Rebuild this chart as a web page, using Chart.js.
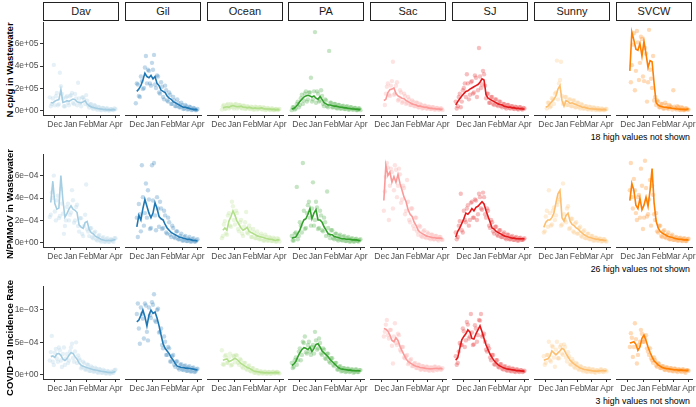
<!DOCTYPE html>
<html><head><meta charset="utf-8">
<script src="https://cdn.jsdelivr.net/npm/chart.js@4.4.1/dist/chart.umd.min.js"></script>
<style>
html,body{margin:0;padding:0;background:#fff}
body{width:696px;height:407px;overflow:hidden;position:relative;font-family:"Liberation Sans",Arial,Helvetica,sans-serif}
.strip{position:absolute;top:2px;height:19px;box-sizing:border-box;border:1px solid #222;background:#fff;font-size:11px;color:#1a1a1a;text-align:center;line-height:17px}
.ytitle{position:absolute;width:200px;height:12px;line-height:12px;font-weight:bold;font-size:9.5px;color:#000;text-align:center;transform:rotate(-90deg);white-space:nowrap}
.cap{position:absolute;right:6px;height:11px;line-height:11px;font-size:8.8px;color:#000;white-space:nowrap}
canvas{position:absolute}
</style></head><body>
<script>
const N = null;
const sites = ['Dav','Gil','Ocean','PA','Sac','SJ','Sunny','SVCW'];
const siteColors = ['#A6CEE3','#1F78B4','#B2DF8A','#33A02C','#FB9A99','#E31A1C','#FDBF6F','#FF7F00'];
// days since 2020-11-01
const xTickDays = [30,61,92,120,151];
const xTickLabels = ['Dec','Jan','Feb','Mar','Apr'];
const lineDays = [14,18,22,26,30,34,38,42,46,50,54,58,62,66,70,74,78,82,86,90,94,98,102,106,110,114,118,122,126,130,134,138,142,146,150];
const pointDays = [16,20,24,28,32,36,40,44,48,52,56,60,64,68,72,76,80,84,88,92,96,100,104,108,112,116,120,124,128,132,136,140,144,148];

const rowTitles = ['N cp/g in Wastewater','N/PMMoV in Wastewater','COVID\u221219 Incidence Rate'];
const rowCaptions = ['18 high values not shown','26 high values not shown','3 high values not shown'];

// y tick values (row units: 1e5, 1e-4, 1e-4) and labels
const yTicksCp = [0,2,4,6];
const yLabelsCp = ['0e+00','2e+05','4e+05','6e+05'];
const yTicksPm = [0,2,4,6];
const yLabelsPm = ['0e+00','2e\u221204','4e\u221204','6e\u221204'];
const yTicksInc = [0,5,10];
const yLabelsInc = ['0e+00','5e\u221204','1e\u221203'];
const yRangeCp = [-0.375, 7.875];
const yRangePm = [-0.375, 7.875];
const yRangeInc = [-0.65, 13.6];

// Row 1: N cp/g (x 1e5)
const cpLine = [
 [N,N,0.75,0.7,0.85,0.95,1.0,1.9,0.75,0.8,0.9,0.85,0.95,1.05,1.0,0.8,0.75,0.7,0.8,0.9,0.6,0.45,0.35,0.3,0.25,0.2,0.18,0.15,0.12,0.1,0.1,0.08,0.08,0.1,0.1],
 [N,N,N,N,1.7,1.9,2.2,2.7,3.3,3.0,2.9,3.1,2.8,3.0,2.4,2.2,1.8,1.7,1.6,1.3,1.1,1.0,0.8,0.7,0.6,0.5,0.4,0.3,0.3,0.25,0.2,0.15,0.12,0.1,0.08],
 [N,N,N,N,N,N,0.25,0.3,0.35,0.3,0.4,0.45,0.4,0.35,0.35,0.4,0.3,0.3,0.25,0.3,0.25,0.2,0.25,0.2,0.2,0.25,0.2,0.15,0.15,0.15,0.12,0.12,0.1,0.1,0.1],
 [0.15,0.2,0.35,0.55,0.8,1.0,1.2,1.3,1.35,1.3,1.2,1.3,1.1,1.0,1.25,1.0,0.7,0.6,0.5,0.5,0.45,0.4,0.4,0.35,0.3,0.3,0.25,0.25,0.2,0.2,0.15,0.15,0.12,0.12,0.1],
 [N,N,N,N,N,0.9,1.0,1.6,1.85,1.9,2.0,1.5,1.3,1.2,1.1,1.05,0.9,0.8,0.7,0.6,0.55,0.5,0.4,0.4,0.35,0.3,0.3,0.25,0.2,0.2,0.18,0.15,0.15,0.12,0.12],
 [0.5,0.8,1.05,1.3,1.5,1.7,1.75,1.9,2.0,2.1,2.2,2.3,2.5,2.8,2.7,1.4,1.1,1.0,0.9,0.8,0.7,0.6,0.55,0.5,0.4,0.35,0.3,0.3,0.25,0.25,0.2,0.2,0.18,0.15,0.15],
 [N,N,N,N,0.3,0.4,0.6,0.8,1.0,1.3,1.9,2.2,0.9,0.4,0.9,0.8,0.65,0.7,0.6,0.55,0.45,0.4,0.3,0.3,0.25,0.2,0.18,0.15,0.15,0.12,0.12,0.1,0.1,0.1,0.1],
 [N,N,N,N,N,3.5,6.9,6.2,5.4,5.3,5.9,4.8,6.1,5.0,3.8,4.4,4.3,2.4,0.7,0.5,0.4,0.35,0.3,0.3,0.25,0.25,0.2,0.2,0.15,0.15,0.12,0.12,0.1,0.12,0.15]
];
const cpPts = [
 [N,1.2,0.6,4.1,1.3,0.5,3.4,1.5,0.4,1.2,0.7,1.3,1.6,0.6,1.1,2.5,0.7,1.2,1.0,1.4,0.5,0.6,0.3,0.5,0.2,0.35,0.1,0.25,0.1,0.2,0.05,0.15,0.1,0.2],
 [N,N,N,0.65,2.3,1.2,2.6,2.0,4.8,3.6,2.4,4.2,4.9,2.0,3.0,1.5,2.1,1.0,1.8,0.8,1.4,0.6,0.9,0.4,0.7,0.3,0.5,0.2,0.4,0.15,0.3,0.1,0.2,0.05],
 [N,N,N,N,N,0.1,0.5,0.2,0.6,0.3,0.5,0.2,0.6,0.3,0.5,0.2,0.45,0.2,0.35,0.15,0.3,0.1,0.3,0.15,0.3,0.1,0.25,0.1,0.2,0.05,0.2,0.05,0.15,0.1],
 [0.3,0.1,0.6,0.3,1.1,0.6,1.5,0.8,1.6,2.9,1.0,6.9,1.7,0.8,1.8,0.6,1.0,0.4,5.25,0.7,0.3,0.6,0.2,0.5,0.2,0.45,0.15,0.4,0.1,0.3,0.1,0.25,0.05,0.2],
 [N,N,N,N,N,0.5,2.1,1.4,2.2,4.3,1.5,2.5,1.0,1.6,0.8,1.3,0.7,1.0,0.5,0.8,0.4,0.7,0.3,0.5,0.25,0.45,0.2,0.35,0.15,0.3,0.1,0.25,0.1,0.2],
 [0.2,1.2,0.3,1.8,2.4,3.2,1.0,2.5,1.5,3.1,1.2,5.5,2.0,3.5,2.2,1.5,0.7,1.2,0.6,1.0,0.5,0.8,0.4,0.6,0.3,0.5,0.25,0.4,0.2,0.35,0.15,0.3,0.15,0.25],
 [N,N,N,N,0.2,0.7,0.4,1.0,1.5,4.4,2.4,4.3,0.6,1.2,0.5,1.0,0.4,0.9,0.3,0.7,0.3,0.6,0.2,0.4,0.15,0.35,0.1,0.3,0.1,0.25,0.05,0.2,0.05,0.15],
 [N,N,N,N,N,2.5,5.8,1.8,7.0,2.7,6.5,3.0,5.5,0.8,7.1,2.8,4.8,1.2,0.9,0.3,0.6,0.2,0.7,0.25,0.5,0.3,1.8,0.2,0.4,0.1,0.3,0.05,0.2,0.1]
];
const cpPts2 = [
 [N,N,0.4,1.1,0.5,1.6,0.6,2.2,1.1,0.4,1.3,0.5,1.4,0.7,1.5,0.5,1.1,0.4,1.2,0.6,0.9,0.3,0.6,0.15,0.45,0.1,0.3,0.05,0.25,0.05,0.2,0.02,0.15,0.05,0.15],
 [N,N,N,N,2.4,1.3,3.0,1.9,3.8,2.4,3.5,2.2,3.6,2.3,3.1,1.6,2.5,1.2,2.2,0.9,1.6,0.6,1.2,0.4,1.0,0.3,0.7,0.15,0.5,0.1,0.35,0.05,0.25,0.05,0.15],
 [N,N,N,N,N,N,0.4,0.15,0.5,0.2,0.6,0.3,0.55,0.2,0.5,0.25,0.45,0.15,0.4,0.2,0.35,0.1,0.35,0.1,0.3,0.15,0.3,0.05,0.25,0.1,0.2,0.05,0.15,0.05,0.15],
 [0.05,0.3,0.2,0.8,0.5,1.4,0.9,1.7,1.0,1.6,0.8,1.7,0.7,1.5,0.9,1.3,0.4,0.9,0.3,0.7,0.3,0.6,0.25,0.5,0.2,0.4,0.15,0.35,0.1,0.3,0.1,0.25,0.05,0.2,0.05],
 [N,N,N,N,N,N,1.5,2.4,1.3,2.6,1.4,2.2,0.9,1.8,0.7,1.5,0.6,1.2,0.5,0.9,0.4,0.7,0.3,0.6,0.2,0.45,0.2,0.35,0.15,0.3,0.1,0.25,0.1,0.2,0.05],
 [0.8,0.4,1.5,0.8,2.0,1.2,2.4,1.4,2.6,1.6,2.9,1.8,3.0,2.3,3.2,1.1,1.5,0.7,1.2,0.5,1.0,0.4,0.8,0.3,0.6,0.2,0.5,0.2,0.4,0.15,0.3,0.1,0.3,0.1,0.2],
 [N,N,N,N,N,0.7,0.3,1.1,0.6,1.6,1.0,2.7,1.3,0.7,1.2,0.5,1.0,0.4,0.9,0.3,0.7,0.2,0.5,0.2,0.4,0.1,0.3,0.1,0.25,0.05,0.2,0.05,0.15,0.05,0.15],
 [N,N,N,N,N,N,4.0,6.8,3.5,6.0,4.2,6.3,2.6,5.0,2.5,3.6,2.0,0.9,0.5,0.8,0.3,0.6,0.2,0.5,0.15,0.4,0.1,0.35,0.1,0.3,0.05,0.25,0.05,0.2,0.1]
];

// Row 2: N/PMMoV (x 1e-4)
const pmLine = [
 [N,N,3.6,5.5,3.5,3.0,3.1,6.0,3.8,2.3,2.6,3.0,3.3,3.0,2.9,2.7,1.6,1.4,1.3,1.8,1.9,1.2,0.9,0.8,0.6,0.5,0.4,0.3,0.25,0.2,0.2,0.2,0.2,0.25,0.3],
 [N,N,N,N,1.4,2.4,2.0,3.0,3.8,3.2,2.6,2.2,2.6,3.5,3.0,2.3,2.1,2.0,1.6,1.3,1.1,0.9,0.8,0.7,0.6,0.5,0.45,0.4,0.35,0.3,0.3,0.25,0.2,0.2,0.15],
 [N,N,N,N,N,N,1.1,1.3,1.1,1.9,2.3,2.8,2.4,1.9,1.6,1.3,1.1,1.2,1.35,1.0,0.9,0.8,0.7,0.6,0.55,0.5,0.45,0.4,0.35,0.3,0.3,0.25,0.2,0.25,0.25],
 [0.4,0.45,0.5,0.8,1.1,1.6,2.0,2.1,2.5,3.0,2.1,2.6,2.9,2.0,2.0,1.8,1.4,1.1,0.8,0.7,0.7,0.55,0.5,0.45,0.4,0.35,0.35,0.3,0.3,0.3,0.25,0.25,0.25,0.2,0.2],
 [N,N,N,N,N,3.7,6.8,5.9,6.2,5.3,5.8,5.3,6.0,5.2,4.6,4.0,3.6,2.9,2.5,2.3,1.8,1.5,1.1,0.9,0.8,0.7,0.6,0.55,0.5,0.45,0.45,0.4,0.4,0.4,0.35],
 [0.5,1.0,1.3,1.7,2.1,2.6,2.5,2.7,3.0,2.8,3.1,3.2,3.4,3.6,3.4,2.8,2.3,1.8,1.3,1.2,1.0,0.9,0.8,0.7,0.6,0.55,0.5,0.45,0.4,0.4,0.35,0.35,0.35,0.35,0.35],
 [N,N,N,1.35,1.8,2.0,2.0,2.2,2.6,3.5,4.3,4.6,2.2,1.9,2.4,2.6,1.9,1.6,1.5,1.3,1.2,1.0,0.85,0.7,0.6,0.5,0.45,0.4,0.35,0.3,0.3,0.25,0.25,0.2,0.2],
 [N,N,N,N,N,3.7,5.2,4.6,3.3,3.0,3.9,2.9,3.3,4.0,3.2,4.6,6.5,3.5,1.9,1.3,1.0,0.85,0.75,0.65,0.55,0.5,0.45,0.4,0.35,0.3,0.3,0.28,0.25,0.25,0.25]
];
const pmPts = [
 [N,2.3,4.5,6.0,2.0,4.2,2.4,3.5,0.8,2.0,3.5,2.5,4.7,1.8,3.2,1.5,2.2,0.8,1.5,5.2,1.0,1.3,0.5,0.9,0.3,0.6,0.2,0.4,0.1,0.3,0.1,0.3,0.2,0.4],
 [N,N,N,N,0.5,2.5,6.8,1.5,5.2,4.6,1.2,6.8,7.0,1.1,3.0,3.6,1.2,2.8,0.9,2.2,0.7,1.5,0.5,1.0,0.3,0.6,0.2,0.5,0.15,0.35,0.1,0.3,0.1,0.2],
 [N,N,N,N,N,0.4,1.6,0.8,2.4,1.5,3.6,2.0,2.8,1.2,1.8,0.8,1.4,2.7,0.8,1.2,0.5,0.9,0.4,0.7,0.3,0.6,0.2,0.5,0.2,0.4,0.15,0.35,0.1,0.3],
 [0.2,0.8,4.9,0.6,1.5,7.0,1.2,2.6,3.6,1.5,5.3,2.0,3.1,1.3,2.4,1.0,1.8,4.5,0.7,1.1,0.4,0.8,0.3,0.6,0.25,0.5,0.15,0.4,0.1,0.35,0.1,0.3,0.15,0.25],
 [N,N,N,N,N,4.5,7.0,2.0,6.5,3.0,6.8,4.0,6.5,3.5,5.0,2.5,5.5,2.0,3.0,1.5,2.2,1.0,1.5,0.6,1.0,0.5,0.9,0.4,0.7,0.3,0.6,0.3,0.5,0.3],
 [0.3,1.5,4.3,0.9,2.0,3.0,1.5,3.5,2.2,3.8,2.0,4.3,3.0,4.4,2.5,3.0,1.5,2.0,1.0,1.4,0.7,1.1,0.5,0.8,0.4,0.7,0.3,0.5,0.25,0.45,0.2,0.4,0.25,0.3],
 [N,N,N,1.0,2.8,4.6,1.5,2.8,2.0,3.3,4.0,1.5,5.2,2.0,3.0,1.2,2.1,1.0,1.7,0.8,1.3,0.6,1.0,0.4,0.8,0.3,0.6,0.2,0.45,0.2,0.35,0.1,0.3,0.15],
 [N,N,N,N,N,7.0,3.0,4.6,2.0,4.2,6.5,1.2,7.2,2.3,3.8,1.5,4.2,2.0,1.0,1.5,0.6,1.0,0.5,0.7,0.3,0.6,0.25,0.45,0.2,0.4,0.2,0.35,0.15,0.3]
];
const pmPts2 = [
 [N,N,2.5,4.0,2.8,3.8,2.2,4.8,2.6,1.5,3.2,2.0,2.7,3.8,2.0,3.4,1.0,2.2,0.6,2.5,1.2,0.6,1.3,0.4,1.0,0.2,0.7,0.1,0.5,0.1,0.4,0.1,0.3,0.1,0.4],
 [N,N,N,N,2.2,3.4,1.0,4.0,2.6,2.2,3.8,1.3,3.7,2.4,4.0,1.4,3.0,1.3,2.4,0.8,1.8,0.5,1.3,0.4,1.0,0.3,0.8,0.2,0.6,0.15,0.5,0.1,0.4,0.1,0.3],
 [N,N,N,N,N,N,0.6,1.9,0.7,2.6,1.4,3.2,1.6,2.6,1.0,2.0,0.6,1.8,0.9,1.5,0.5,1.2,0.4,1.0,0.3,0.8,0.2,0.7,0.2,0.5,0.15,0.45,0.1,0.4,0.1],
 [0.6,0.2,0.9,0.3,1.8,0.9,2.8,1.3,3.3,2.2,3.0,1.5,3.6,1.2,2.8,1.1,2.2,0.6,1.3,0.4,1.1,0.3,0.8,0.2,0.7,0.2,0.6,0.15,0.5,0.1,0.4,0.1,0.35,0.1,0.3],
 [N,N,N,N,N,2.8,5.8,6.6,5.0,6.2,4.6,6.4,5.0,6.0,3.8,4.8,2.8,3.6,1.8,3.0,1.2,2.2,0.7,1.4,0.5,1.1,0.4,0.8,0.3,0.7,0.3,0.6,0.2,0.5,0.25],
 [0.9,0.5,1.9,1.1,2.8,1.8,3.3,2.0,3.6,2.2,3.7,2.5,4.0,2.9,4.0,2.2,2.8,1.3,1.8,0.8,1.4,0.6,1.1,0.5,0.9,0.3,0.7,0.3,0.6,0.25,0.5,0.2,0.45,0.25,0.4],
 [N,N,N,0.9,2.3,1.4,2.6,1.6,3.1,2.4,3.6,3.8,1.6,2.5,1.8,3.2,1.3,2.1,0.9,1.8,0.8,1.4,0.5,1.1,0.4,0.8,0.3,0.6,0.2,0.45,0.2,0.35,0.15,0.3,0.1],
 [N,N,N,N,N,4.6,4.0,5.6,2.6,4.0,2.2,5.0,2.2,4.8,2.5,5.5,5.0,2.5,2.6,0.9,1.5,0.5,1.1,0.4,0.9,0.3,0.7,0.25,0.5,0.2,0.45,0.15,0.4,0.15,0.35]
];

// Row 3: COVID-19 incidence rate (x 1e-4)
const incLine = [
 [N,N,2.8,2.9,2.7,3.2,3.3,3.0,2.4,2.2,2.5,3.0,3.4,3.3,2.8,2.4,1.8,1.5,1.3,1.2,1.1,1.0,0.9,0.8,0.75,0.7,0.6,0.55,0.5,0.45,0.4,0.35,0.35,0.4,0.5],
 [N,N,N,N,8.0,8.3,9.0,9.8,8.8,7.4,9.0,9.8,9.3,9.5,8.6,7.4,6.0,4.7,4.0,3.6,3.2,2.6,2.2,1.7,1.3,1.2,1.1,1.1,1.0,1.0,0.95,0.9,0.85,0.8,0.7],
 [N,N,N,N,N,N,2.2,2.3,2.4,2.0,2.1,2.3,2.5,2.3,2.0,1.7,1.5,1.3,1.1,1.0,0.8,0.6,0.5,0.45,0.4,0.35,0.3,0.3,0.3,0.3,0.3,0.3,0.35,0.3,0.3],
 [1.4,1.6,2.0,2.7,3.3,3.8,4.1,4.0,3.8,4.2,3.5,4.0,4.6,4.7,4.2,3.6,3.3,3.0,2.7,2.3,2.0,1.7,1.4,1.1,0.9,0.85,0.8,0.75,0.7,0.7,0.65,0.6,0.6,0.6,0.6],
 [N,N,N,N,N,7.0,6.9,6.6,6.0,5.2,5.0,5.6,5.2,4.3,3.6,3.0,2.4,2.0,1.8,1.6,1.4,1.3,1.2,1.1,1.05,1.0,0.95,0.9,0.9,0.9,0.95,0.95,0.95,0.95,0.9],
 [2.2,2.6,4.0,5.3,5.8,6.2,6.8,6.5,5.5,5.4,6.2,6.8,7.4,6.5,5.5,4.5,3.8,3.1,2.6,2.1,1.8,1.5,1.3,1.15,1.0,0.9,0.85,0.8,0.75,0.7,0.65,0.6,0.6,0.55,0.55],
 [N,N,N,2.2,2.3,2.4,2.8,3.6,3.3,3.0,3.3,3.6,4.0,3.8,3.2,2.7,2.2,1.9,1.6,1.4,1.2,1.0,0.9,0.8,0.75,0.7,0.65,0.6,0.55,0.55,0.55,0.6,0.6,0.6,0.6],
 [N,N,N,N,N,4.8,4.9,5.0,4.6,3.7,4.2,5.5,6.0,5.2,4.2,3.4,2.7,2.1,1.8,1.5,1.3,1.1,1.0,0.95,0.9,0.85,0.8,0.75,0.75,0.7,0.7,0.7,0.65,0.65,0.65]
];
const incPts = [
 [N,2.2,6.0,1.5,4.0,2.0,3.8,1.2,4.2,2.5,1.8,3.6,4.8,2.0,5.0,3.0,2.2,1.2,1.8,0.8,1.5,0.6,1.1,0.5,0.9,0.3,0.8,0.3,0.6,0.2,0.5,0.2,0.4,0.7],
 [N,N,N,N,10.8,4.7,9.2,5.5,10.5,5.2,9.0,11.0,12.2,8.0,10.0,6.5,4.5,5.8,3.0,4.2,2.0,2.8,1.5,2.0,1.0,1.5,0.8,1.3,0.6,1.1,0.5,1.0,0.4,0.8],
 [N,N,N,N,N,3.7,1.5,3.0,1.8,3.2,1.5,2.8,3.0,1.8,2.4,1.2,1.8,0.9,1.3,0.6,1.0,0.3,0.7,0.2,0.5,0.2,0.45,0.15,0.4,0.15,0.4,0.2,0.4,0.25],
 [1.0,2.2,1.5,3.5,2.2,5.0,5.8,3.2,5.0,3.0,4.5,6.5,3.8,5.5,3.2,4.0,2.5,3.2,2.0,2.5,1.5,1.8,0.8,1.2,0.5,1.0,0.4,0.9,0.4,0.8,0.3,0.8,0.4,0.7],
 [N,N,N,N,N,6.5,8.3,5.5,6.8,1.7,7.8,4.5,6.0,3.5,4.2,2.5,3.0,1.8,2.4,1.3,1.8,1.0,1.5,0.8,1.3,0.7,1.2,0.6,1.1,0.6,1.2,0.7,1.1,0.8],
 [1.5,3.5,4.5,7.0,4.2,8.0,5.5,9.2,4.5,7.5,5.0,8.3,9.2,6.0,5.0,3.5,4.0,2.2,3.0,1.5,2.2,1.1,1.6,0.8,1.3,0.6,1.1,0.5,0.9,0.4,0.8,0.4,0.7,0.5],
 [N,N,N,1.5,3.0,5.0,2.0,4.2,1.2,5.0,2.5,4.5,3.0,4.2,2.0,2.8,1.5,2.0,1.0,1.6,0.7,1.2,0.5,1.0,0.4,0.9,0.4,0.8,0.3,0.7,0.4,0.8,0.4,0.7],
 [N,N,N,N,N,6.3,2.7,7.8,1.7,4.5,6.8,5.0,5.5,4.0,3.0,2.5,1.8,2.2,1.2,1.6,1.0,1.3,0.7,1.1,0.6,1.0,0.5,0.9,0.4,0.8,0.4,0.8,0.3,0.7]
];
const incPts2 = [
 [N,N,3.5,2.0,3.4,2.5,4.2,2.2,3.2,1.5,3.2,2.2,4.2,2.6,3.6,1.8,2.5,1.0,2.0,0.8,1.6,0.6,1.3,0.5,1.1,0.4,0.9,0.3,0.8,0.25,0.6,0.2,0.5,0.3,0.8],
 [N,N,N,N,9.2,7.0,10.2,8.5,10.8,6.5,10.2,8.6,10.6,8.2,9.8,6.4,7.0,4.0,5.0,3.0,4.0,2.0,3.0,1.2,2.0,0.8,1.6,0.7,1.4,0.6,1.3,0.5,1.1,0.5,0.9],
 [N,N,N,N,N,N,1.6,2.8,1.8,2.6,1.4,2.9,1.9,2.9,1.5,2.2,1.0,1.8,0.7,1.4,0.5,1.0,0.3,0.7,0.2,0.5,0.2,0.45,0.2,0.4,0.2,0.45,0.25,0.4,0.2],
 [1.8,1.2,2.6,2.2,4.0,3.0,4.8,3.4,4.5,3.5,4.2,3.2,5.2,4.0,4.8,3.0,3.8,2.4,3.2,1.8,2.5,1.3,1.8,0.8,1.3,0.6,1.0,0.5,0.9,0.5,0.8,0.4,0.8,0.4,0.7],
 [N,N,N,N,N,5.8,7.6,6.0,6.8,4.4,5.8,4.8,6.2,3.8,4.2,2.6,2.8,1.6,2.2,1.3,1.7,1.0,1.5,0.8,1.3,0.8,1.2,0.7,1.1,0.7,1.2,0.8,1.1,0.8,1.0],
 [2.8,1.8,4.8,4.5,6.6,5.2,7.6,5.8,6.4,4.6,7.0,6.0,8.2,5.8,6.2,3.8,4.4,2.6,3.0,1.6,2.2,1.2,1.6,0.9,1.2,0.7,1.0,0.6,0.9,0.5,0.8,0.5,0.7,0.4,0.6],
 [N,N,N,2.8,1.8,3.0,2.2,4.4,2.6,3.8,2.5,4.2,3.2,4.6,2.6,3.4,1.6,2.4,1.2,1.8,0.9,1.3,0.7,1.0,0.5,0.9,0.5,0.8,0.4,0.7,0.5,0.8,0.5,0.7,0.5],
 [N,N,N,N,N,4.2,5.6,4.2,5.4,3.0,5.0,6.2,5.0,6.0,3.5,4.0,2.2,2.6,1.4,1.8,1.0,1.3,0.8,1.1,0.7,1.0,0.6,0.9,0.6,0.8,0.6,0.8,0.5,0.7,0.6]
];

const rows = [
  {line: cpLine, pts: cpPts, pts2: cpPts2, ticks: yTicksCp, labels: yLabelsCp, range: yRangeCp},
  {line: pmLine, pts: pmPts, pts2: pmPts2, ticks: yTicksPm, labels: yLabelsPm, range: yRangePm},
  {line: incLine, pts: incPts, pts2: incPts2, ticks: yTicksInc, labels: yLabelsInc, range: yRangeInc}
];

// layout
const panelLeft = [43,125,207,288,370,452,534,616];
const PW = 76, AH = 94, XH = 22, PADT = 5, PADS = 10, YW = 29;
const rowTop = [21,153,285];
const titleCenter = [70,204,338];
const capTop = [132,264,396];
const FONT = '"Liberation Sans", Arial, Helvetica, sans-serif';

Chart.defaults.font.family = FONT;

function hexA(h, a){
  const r = parseInt(h.slice(1,3),16), g = parseInt(h.slice(3,5),16), b = parseInt(h.slice(5,7),16);
  return 'rgba('+r+','+g+','+b+','+a+')';
}
function series(days, vals){
  const out = [];
  vals.forEach((v,i)=>{ if (v !== null && i < days.length) out.push({x: days[i], y: v}); });
  return out;
}

// strips
sites.forEach((s,i)=>{
  const d = document.createElement('div');
  d.className = 'strip';
  d.style.left = panelLeft[i]+'px';
  d.style.width = PW+'px';
  d.textContent = s;
  document.body.appendChild(d);
});

rows.forEach((row, r)=>{
  const t = document.createElement('div');
  t.className = 'ytitle';
  t.style.left = (10-100)+'px';
  t.style.top = (titleCenter[r] - 6)+'px';
  t.textContent = rowTitles[r];
  document.body.appendChild(t);

  const c = document.createElement('div');
  c.className = 'cap';
  c.style.top = capTop[r]+'px';
  c.textContent = rowCaptions[r];
  document.body.appendChild(c);

  sites.forEach((s, col)=>{
    const first = col === 0;
    const left = first ? panelLeft[col] - YW : panelLeft[col] - PADS;
    const w = (first ? YW : PADS) + PW + PADS;
    const h = PADT + AH + XH;
    const cv = document.createElement('canvas');
    cv.width = w; cv.height = h;
    cv.style.left = left+'px';
    cv.style.top = (rowTop[r]-PADT)+'px';
    cv.style.width = w+'px'; cv.style.height = h+'px';
    document.body.appendChild(cv);
    const color = siteColors[col];
    const ptColor = hexA(color, 0.28);
    new Chart(cv, {
      type: 'scatter',
      data: { datasets: [
        { data: series(lineDays, row.line[col]), showLine: true, borderColor: color, borderWidth: 1.6,
          pointRadius: 0, tension: 0, fill: false, clip: 6 },
        { data: series(pointDays, row.pts[col]), backgroundColor: ptColor, borderWidth: 0,
          pointRadius: 2.2, clip: 6 },
        { data: series(lineDays, row.pts2[col]), backgroundColor: ptColor, borderWidth: 0,
          pointRadius: 2.2, clip: 6 }
      ]},
      options: {
        responsive: false, animation: false, devicePixelRatio: 1, events: [],
        layout: { padding: { top: PADT, left: first ? 0 : PADS, right: PADS, bottom: 0 } },
        plugins: { legend: { display: false }, tooltip: { enabled: false } },
        scales: {
          x: {
            type: 'linear', min: 6.6, max: 157,
            afterBuildTicks: sc => { sc.ticks = xTickDays.map(v => ({value: v})); },
            afterFit: sc => { sc.height = XH; },
            ticks: { autoSkip: false, maxRotation: 0, minRotation: 0, padding: 1.5,
              font: { size: 8.5, family: FONT }, color: '#4d4d4d',
              callback: (v, i) => xTickLabels[i] },
            grid: { display: true, drawOnChartArea: false, drawTicks: true, tickLength: 3, color: '#333' },
            border: { display: true, color: '#333', width: 1 }
          },
          y: {
            type: 'linear', display: first, min: row.range[0], max: row.range[1],
            afterBuildTicks: sc => { sc.ticks = row.ticks.map(v => ({value: v})); },
            afterFit: sc => { sc.width = first ? YW : 0; },
            ticks: { padding: 1.5, font: { size: 8.5, family: FONT }, color: '#4d4d4d',
              callback: (v, i) => row.labels[i] },
            grid: { display: true, drawOnChartArea: false, drawTicks: true, tickLength: 3, color: '#333' },
            border: { display: true, color: '#333', width: 1 }
          }
        }
      }
    });
  });
});
</script>
</body></html>
